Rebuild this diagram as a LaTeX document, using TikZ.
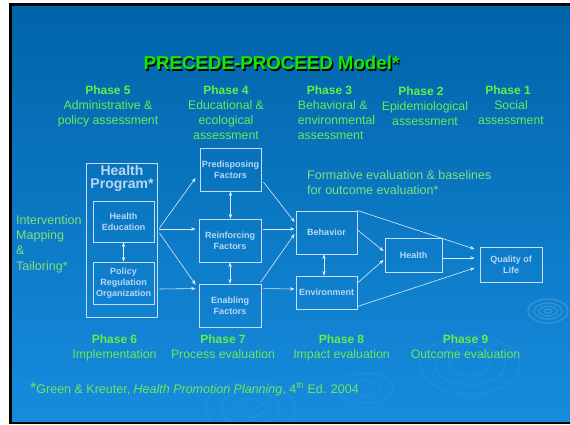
\documentclass[tikz,border=0pt]{standalone}
\usepackage{fontspec}
\setmainfont{Liberation Sans}
\usepackage{xcolor}
\usetikzlibrary{calc, positioning, arrows.meta}
\definecolor{bgtop}{RGB}{0,100,168}
\definecolor{bgbot}{RGB}{22,140,222}
\definecolor{titlegreen}{RGB}{20,232,0}
\definecolor{phasegreen}{RGB}{102,238,68}
\definecolor{descgreen}{RGB}{110,232,90}
\definecolor{notegreen}{RGB}{125,225,125}
\definecolor{boxline}{RGB}{200,222,245}
\definecolor{boxtext}{RGB}{185,215,245}
\definecolor{arrowc}{RGB}{225,235,245}
\begin{document}
\begin{tikzpicture}[x=1pt, y=-1pt,
  box/.style={draw=boxline, line width=0.9pt, align=center, text=boxtext, font=\bfseries\fontsize{9}{11}\selectfont, inner sep=0pt},
  head/.style={align=center, text=boxtext, font=\bfseries\fontsize{14}{13.5}\selectfont, inner sep=0pt},
  arr/.style={draw=arrowc, line width=0.6pt, -{Stealth[length=4.5pt,width=3.5pt]}},
  dbl/.style={draw=arrowc, line width=0.6pt, {Stealth[length=4.5pt,width=3.5pt]}-{Stealth[length=4.5pt,width=3.5pt]}},
  ttl/.style={font=\bfseries\fontsize{18.7}{22}\selectfont, inner sep=0pt},
  phase/.style={text=phasegreen, font=\bfseries\fontsize{12}{14}\selectfont, inner sep=0pt},
  desc/.style={text=descgreen, font=\fontsize{12.3}{15}\selectfont, align=center, inner sep=0pt},
  note/.style={text=notegreen, font=\fontsize{12.5}{15.3}\selectfont, align=left, inner sep=0pt}]
\useasboundingbox (0,0) rectangle (570,424);
\fill[black] (9,3) rectangle (570,424);
\shade[top color=bgtop, bottom color=bgbot] (12,6) rectangle (570,421);
\begin{scope}
\clip (12,6) rectangle (570,421);
\foreach \a/\b in {4/2,9/5,14/8,20/12}
  \draw[white, opacity=0.16, line width=1.2pt] (548,311) ellipse ({\a} and {\b});
\foreach \a/\b in {20/11,35/20,50/29}
  \draw[white, opacity=0.035, line width=2pt] (470,365) ellipse ({\a} and {\b});
\foreach \a/\b in {15/9,30/17,45/26}
  \draw[white, opacity=0.035, line width=2pt] (250,408) ellipse ({\a} and {\b});
\foreach \a/\b in {15/8,28/15}
  \draw[white, opacity=0.03, line width=2pt] (365,388) ellipse ({\a} and {\b});
\end{scope}

\node[ttl, text=black] (tsh) at (273,64.5) {PRECEDE-PROCEED Model*};
\node[ttl, text=titlegreen] (title) at (271.5,63) {PRECEDE-PROCEED Model*};

\node[phase] (p5) at (108,90) {Phase 5};
\node[desc, below=6pt of p5] (d5) {Administrative \&\\policy assessment};
\node[phase] (p4) at (226,90) {Phase 4};
\node[desc, below=6pt of p4] (d4) {Educational \&\\ecological\\assessment};
\node[phase] (p3) at (329.5,90) {Phase 3};
\node[desc, align=left, below=6pt of p3, xshift=7pt] (d3) {Behavioral \&\\environmental\\assessment};
\node[phase] (p2) at (421,91) {Phase 2};
\node[desc, below=6pt of p2, xshift=4pt] (d2) {Epidemiological\\assessment};
\node[phase] (p1) at (508,90) {Phase 1};
\node[desc, below=6pt of p1, xshift=3pt] (d1) {Social\\assessment};

\node[note, anchor=west] (imt) at (16,244) {Intervention\\Mapping\\\&\\Tailoring*};
\node[note, anchor=west] (form) at (307,182.5) {Formative evaluation \& baselines\\for outcome evaluation*};

\node[box, minimum width=71pt, minimum height=154pt] (prog) at (121.5,240) {};
\node[head] (progt) at (122,178.5) {Health\\Program*};
\node[box, minimum width=61pt, minimum height=41pt] (hedu) at (123.5,221.5) {Health\\Education};
\node[box, minimum width=61pt, minimum height=42pt] (pol) at (123.5,283) {Policy\\Regulation\\Organization};
\node[box, minimum width=61pt, minimum height=43pt] (pre) at (230.5,169.5) {Predisposing\\Factors};
\node[box, minimum width=62pt, minimum height=43pt] (rein) at (230,240.5) {Reinforcing\\Factors};
\node[box, minimum width=62pt, minimum height=43pt] (enab) at (230,305.5) {Enabling\\Factors};
\node[box, minimum width=61pt, minimum height=43pt] (beh) at (326.5,232.5) {Behavior};
\node[box, minimum width=61pt, minimum height=33pt] (env) at (326.5,292.5) {Environment};
\node[box, minimum width=57pt, minimum height=34pt] (hlth) at (413.5,255) {Health};
\node[box, minimum width=62pt, minimum height=35pt] (qol) at (511,264.5) {Quality of\\Life};

\draw[arr] ([xshift=5pt,yshift=-6.5pt]hedu.east) -- ([xshift=-4pt,yshift=-8.5pt]pre.west);
\draw[arr] ([xshift=5pt,yshift=-7.5pt]hedu.east) -- ([xshift=-3pt,yshift=11.5pt]rein.west);
\draw[arr] ([xshift=5pt,yshift=-11.5pt]hedu.east) -- ([xshift=-3pt,yshift=-1pt]enab.north west);
\draw[arr] ([xshift=5pt,yshift=-6pt]pol.east) -- ([xshift=-3pt,yshift=-5pt]enab.north west);
\draw[arr] ([xshift=2pt,yshift=-12.5pt]pre.east) -- ([xshift=-1pt,yshift=10.5pt]beh.west);
\draw[arr] ([xshift=2pt,yshift=11.5pt]rein.east) -- ([xshift=-1pt,yshift=3.5pt]beh.west);
\draw[arr] ([xshift=-1pt,yshift=1pt]enab.north east) -- ([xshift=-1pt,yshift=-1.5pt]beh.west);
\draw[arr] ([xshift=2pt,yshift=-5pt]enab.north east) -- ([xshift=-1pt,yshift=3.5pt]env.west);
\draw[arr] ([yshift=2.5pt]beh.east) -- ([xshift=-1pt,yshift=4pt]hlth.west);
\draw[arr] ([yshift=9.5pt]env.east) -- ([xshift=-1pt,yshift=-5pt]hlth.west);
\draw[arr] (beh.north east) -- ([xshift=-5pt,yshift=15.5pt]qol.west);
\draw[arr] ([yshift=-3pt]hlth.east) -- ([xshift=-5pt,yshift=6.5pt]qol.west);
\draw[arr] ([yshift=3pt]env.south east) -- ([xshift=-5pt,yshift=-3.5pt]qol.west);
\draw[dbl] (hedu.south) -- (pol.north);
\draw[dbl] (pre.south) -- (pre.south |- rein.north);
\draw[dbl] (rein.south) -- (enab.north);
\draw[dbl] ([xshift=-2.5pt]beh.south) -- ([xshift=-2.5pt]env.north);

\node[phase] (p6) at (114.5,339) {Phase 6};
\node[desc, below=6pt of p6] (d6) {Implementation};
\node[phase] (p7) at (223,339) {Phase 7};
\node[desc, below=6pt of p7] (d7) {Process evaluation};
\node[phase] (p8) at (341.5,339) {Phase 8};
\node[desc, below=6pt of p8] (d8) {Impact evaluation};
\node[phase] (p9) at (465.5,339) {Phase 9};
\node[desc, below=6pt of p9] (d9) {Outcome evaluation};

\node[anchor=base west, text=descgreen, font=\fontsize{12.5}{15}\selectfont, inner sep=0pt] (ref) at (30,393) {{\fontsize{16}{16}\selectfont *}Green \& Kreuter, \textit{Health Promotion Planning}, 4\textsuperscript{th} Ed. 2004};
\end{tikzpicture}
\end{document}
